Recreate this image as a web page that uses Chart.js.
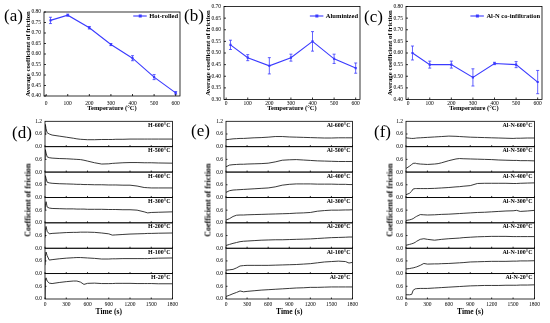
<!DOCTYPE html>
<html>
<head>
<meta charset="utf-8">
<script src="https://cdn.jsdelivr.net/npm/chart.js@4.4.0/dist/chart.umd.min.js"></script>
<style>
  body { margin: 0; background: #fff; width: 550px; height: 323px; overflow: hidden; position: relative; font-family: 'Liberation Serif', serif; }
  canvas { position: absolute; }
  .panel { position: absolute; font-size: 17px; line-height: 17px; color: #000; }
  .ytitle { position: absolute; font-weight: bold; font-size: 8px; white-space: nowrap; transform: translate(-50%, -50%) rotate(-90deg); }
</style>
</head>
<body>
<canvas id="chartA" width="185" height="115" style="left:0;top:0"></canvas>
<canvas id="chartB" width="185" height="115" style="left:180px;top:0"></canvas>
<canvas id="chartC" width="188" height="115" style="left:362px;top:0"></canvas>
<canvas id="chartD" width="180" height="208" style="left:0;top:115px"></canvas>
<canvas id="chartE" width="180" height="208" style="left:180px;top:115px"></canvas>
<canvas id="chartF" width="180" height="208" style="left:362px;top:115px"></canvas>

<div class="panel" style="left:4px;top:7px">(a)</div>
<div class="panel" style="left:184px;top:7px">(b)</div>
<div class="panel" style="left:364px;top:8px">(c)</div>
<div class="panel" style="left:12px;top:124px">(d)</div>
<div class="panel" style="left:191px;top:122px">(e)</div>
<div class="panel" style="left:374px;top:123px">(f)</div>
<div class="ytitle" style="left:28px;top:200px">Coefficient of friction</div>
<div class="ytitle" style="left:208px;top:200px">Coefficient of friction</div>
<div class="ytitle" style="left:390px;top:200px">Coefficient of friction</div>

<script>
// Average friction vs temperature
const tempsC = [20, 100, 200, 300, 400, 500, 600];
const tempTicks = [0, 100, 200, 300, 400, 500, 600];
const hotRolled = [0.76, 0.785, 0.725, 0.645, 0.58, 0.49, 0.415];
const hotRolledErr = [0.015, 0.005, 0.006, 0.005, 0.012, 0.012, 0.006];
const aluminized = [0.535, 0.48, 0.445, 0.48, 0.55, 0.475, 0.435];
const aluminizedErr = [0.02, 0.013, 0.035, 0.015, 0.042, 0.02, 0.022];
const alnCoInf = [0.60, 0.55, 0.55, 0.495, 0.555, 0.55, 0.475];
const alnCoInfErr = [0.03, 0.015, 0.015, 0.037, 0.005, 0.013, 0.05];

// Panel order, top to bottom
const panelTemps = ['600', '500', '400', '300', '200', '100', '20'];
const timeTicks = [0, 300, 600, 900, 1200, 1500, 1800];

// Friction traces: hot-rolled
const timeH = [0, 5, 15, 30, 60, 100, 200, 300, 400, 450, 500, 550, 600, 700, 800, 900, 950, 1000, 1100, 1200, 1300, 1400, 1450, 1500, 1600, 1800];
const h600 = [0.55, 1.05, 0.85, 0.66, 0.60, 0.55, 0.50, 0.45, 0.40, 0.37, 0.35, 0.34, 0.33, 0.33, 0.34, 0.34, 0.34, 0.35, 0.35, 0.36, 0.36, 0.36, 0.36, 0.36, 0.36, 0.36];
const h500 = [0.60, 1.06, 0.90, 0.72, 0.68, 0.66, 0.64, 0.63, 0.61, 0.60, 0.59, 0.56, 0.52, 0.44, 0.38, 0.39, 0.41, 0.42, 0.44, 0.45, 0.45, 0.44, 0.44, 0.44, 0.43, 0.42];
const h400 = [0.60, 1.03, 0.90, 0.72, 0.69, 0.67, 0.65, 0.64, 0.63, 0.62, 0.62, 0.61, 0.61, 0.60, 0.60, 0.59, 0.59, 0.59, 0.58, 0.58, 0.54, 0.47, 0.46, 0.45, 0.45, 0.45];
const h300 = [0.60, 0.80, 1.00, 0.75, 0.70, 0.68, 0.67, 0.66, 0.66, 0.65, 0.65, 0.65, 0.64, 0.64, 0.64, 0.63, 0.63, 0.63, 0.62, 0.62, 0.60, 0.52, 0.47, 0.49, 0.50, 0.52];
const h200 = [0.50, 0.85, 1.03, 0.80, 0.68, 0.70, 0.72, 0.74, 0.75, 0.75, 0.76, 0.76, 0.76, 0.75, 0.72, 0.68, 0.62, 0.63, 0.65, 0.67, 0.68, 0.69, 0.70, 0.70, 0.71, 0.72];
const h100 = [0.40, 0.80, 1.02, 0.85, 0.64, 0.66, 0.70, 0.73, 0.75, 0.76, 0.76, 0.75, 0.74, 0.72, 0.69, 0.69, 0.70, 0.70, 0.71, 0.71, 0.71, 0.71, 0.71, 0.72, 0.73, 0.74];
const h20 = [0.00, 0.90, 1.00, 0.85, 0.75, 0.73, 0.78, 0.82, 0.85, 0.85, 0.80, 0.69, 0.74, 0.75, 0.73, 0.73, 0.73, 0.74, 0.74, 0.74, 0.73, 0.73, 0.73, 0.73, 0.72, 0.72];

// Friction traces: aluminized
const timeAl = [0, 50, 100, 150, 200, 250, 300, 400, 500, 600, 700, 800, 900, 1000, 1100, 1200, 1300, 1400, 1500, 1600, 1700, 1750, 1800];
const al600 = [0.33, 0.35, 0.37, 0.38, 0.39, 0.39, 0.40, 0.42, 0.43, 0.45, 0.48, 0.48, 0.46, 0.45, 0.44, 0.43, 0.42, 0.41, 0.41, 0.42, 0.42, 0.42, 0.42];
const al500 = [0.25, 0.33, 0.35, 0.36, 0.37, 0.37, 0.38, 0.39, 0.40, 0.42, 0.48, 0.56, 0.58, 0.59, 0.57, 0.55, 0.53, 0.52, 0.51, 0.50, 0.50, 0.50, 0.50];
const al400 = [0.24, 0.32, 0.35, 0.36, 0.37, 0.38, 0.39, 0.41, 0.43, 0.45, 0.50, 0.58, 0.62, 0.64, 0.64, 0.64, 0.63, 0.63, 0.63, 0.62, 0.62, 0.61, 0.61];
const al300 = [0.13, 0.20, 0.30, 0.36, 0.37, 0.37, 0.38, 0.39, 0.40, 0.41, 0.42, 0.43, 0.44, 0.46, 0.47, 0.49, 0.55, 0.58, 0.60, 0.60, 0.61, 0.61, 0.62];
const al200 = [0.13, 0.18, 0.23, 0.27, 0.31, 0.33, 0.34, 0.36, 0.38, 0.39, 0.40, 0.40, 0.41, 0.42, 0.43, 0.44, 0.46, 0.48, 0.50, 0.51, 0.52, 0.53, 0.53];
const al100 = [0.16, 0.18, 0.20, 0.27, 0.36, 0.38, 0.39, 0.39, 0.39, 0.39, 0.40, 0.41, 0.42, 0.43, 0.45, 0.47, 0.51, 0.55, 0.57, 0.59, 0.57, 0.50, 0.53];
const al20 = [0.12, 0.18, 0.25, 0.31, 0.38, 0.34, 0.36, 0.39, 0.42, 0.44, 0.46, 0.48, 0.50, 0.52, 0.53, 0.55, 0.55, 0.56, 0.57, 0.57, 0.57, 0.57, 0.57];

// Friction traces: Al-N co-infiltration
const timeAlN = [0, 50, 80, 100, 130, 150, 200, 250, 300, 400, 450, 500, 600, 700, 750, 800, 900, 1000, 1100, 1200, 1300, 1400, 1500, 1550, 1600, 1700, 1800];
const aln600 = [0.42, 0.40, 0.39, 0.39, 0.40, 0.41, 0.42, 0.43, 0.44, 0.46, 0.47, 0.48, 0.50, 0.49, 0.48, 0.47, 0.45, 0.44, 0.43, 0.42, 0.41, 0.40, 0.39, 0.40, 0.40, 0.41, 0.41];
const aln500 = [0.17, 0.28, 0.36, 0.41, 0.42, 0.40, 0.38, 0.37, 0.36, 0.38, 0.40, 0.44, 0.54, 0.62, 0.64, 0.63, 0.62, 0.61, 0.60, 0.59, 0.57, 0.56, 0.55, 0.55, 0.54, 0.54, 0.53];
const aln400 = [0.13, 0.20, 0.30, 0.40, 0.42, 0.42, 0.42, 0.42, 0.42, 0.43, 0.44, 0.45, 0.47, 0.50, 0.51, 0.53, 0.56, 0.66, 0.67, 0.67, 0.67, 0.67, 0.66, 0.66, 0.67, 0.68, 0.69];
const aln300 = [0.11, 0.14, 0.17, 0.20, 0.27, 0.31, 0.39, 0.38, 0.37, 0.38, 0.39, 0.40, 0.41, 0.43, 0.44, 0.45, 0.47, 0.49, 0.50, 0.52, 0.54, 0.56, 0.57, 0.59, 0.54, 0.56, 0.59];
const aln200 = [0.14, 0.18, 0.21, 0.23, 0.28, 0.33, 0.42, 0.45, 0.42, 0.38, 0.40, 0.42, 0.45, 0.47, 0.48, 0.50, 0.52, 0.54, 0.55, 0.56, 0.56, 0.56, 0.55, 0.55, 0.55, 0.55, 0.55];
const aln100 = [0.22, 0.24, 0.26, 0.27, 0.30, 0.32, 0.39, 0.48, 0.45, 0.46, 0.46, 0.47, 0.48, 0.50, 0.51, 0.52, 0.55, 0.56, 0.57, 0.58, 0.58, 0.58, 0.59, 0.59, 0.60, 0.60, 0.61];
const aln20 = [0.20, 0.20, 0.22, 0.41, 0.48, 0.49, 0.50, 0.50, 0.50, 0.52, 0.53, 0.54, 0.56, 0.58, 0.59, 0.60, 0.62, 0.63, 0.64, 0.64, 0.64, 0.65, 0.65, 0.65, 0.66, 0.66, 0.67];

const serif = 'Liberation Serif';
const blue = '#3a3aff';

// Frame, inner ticks, error bars and legend for the top charts
const errorBarsPlugin = {
    id: 'errorBars',
    afterDatasetsDraw(chart, args, opts) {
        const { ctx, chartArea } = chart;
        const xs = chart.scales.x;
        const ys = chart.scales.y;
        ctx.save();

        ctx.strokeStyle = blue;
        ctx.lineWidth = 0.8;
        tempsC.forEach((t, i) => {
            const px = xs.getPixelForValue(t);
            const top = ys.getPixelForValue(opts.values[i] + opts.errors[i]);
            const bot = ys.getPixelForValue(opts.values[i] - opts.errors[i]);
            ctx.beginPath();
            ctx.moveTo(px, top); ctx.lineTo(px, bot);
            ctx.moveTo(px - 1.5, top); ctx.lineTo(px + 1.5, top);
            ctx.moveTo(px - 1.5, bot); ctx.lineTo(px + 1.5, bot);
            ctx.stroke();
        });

        ctx.strokeStyle = '#000';
        ctx.lineWidth = 0.8;
        ctx.strokeRect(chartArea.left, chartArea.top, chartArea.width, chartArea.height);
        ctx.beginPath();
        xs.ticks.forEach(t => {
            const px = xs.getPixelForValue(t.value);
            ctx.moveTo(px, chartArea.bottom); ctx.lineTo(px, chartArea.bottom - 2);
        });
        ys.ticks.forEach(t => {
            const py = ys.getPixelForValue(t.value);
            ctx.moveTo(chartArea.left, py); ctx.lineTo(chartArea.left + 2, py);
        });
        ctx.stroke();

        // legend
        ctx.font = `bold 6.5px "${serif}"`;
        ctx.fillStyle = '#000';
        ctx.textAlign = 'right';
        ctx.textBaseline = 'middle';
        const textRight = chartArea.right - 2;
        ctx.fillText(opts.label, textRight, 16);
        const textLeft = textRight - ctx.measureText(opts.label).width;
        ctx.strokeStyle = blue;
        ctx.lineWidth = 1.1;
        ctx.beginPath();
        ctx.moveTo(textLeft - 16, 16); ctx.lineTo(textLeft - 2.5, 16);
        ctx.stroke();
        ctx.fillStyle = blue;
        ctx.fillRect(textLeft - 10.5, 14.5, 3, 3);
        ctx.restore();
    }
};

function createTempChart(id, values, errors, label, yMin, yMax, pad) {
    new Chart(document.getElementById(id), {
        type: 'line',
        data: {
            datasets: [{
                label: label,
                data: tempsC.map((t, i) => ({ x: t, y: values[i] })),
                borderColor: blue,
                backgroundColor: blue,
                borderWidth: 1.1,
                pointStyle: 'rect',
                pointRadius: 1.5,
                pointBorderWidth: 0,
                tension: 0
            }]
        },
        options: {
            responsive: false,
            animation: false,
            events: [],
            layout: { padding: { left: 25, right: pad.right, top: pad.top, bottom: 0 } },
            plugins: {
                legend: { display: false },
                tooltip: { enabled: false },
                errorBars: { values: values, errors: errors, label: label }
            },
            scales: {
                x: {
                    type: 'linear',
                    min: -10,
                    max: 620,
                    border: { display: false },
                    grid: { display: false, drawTicks: false },
                    ticks: { padding: pad.xTick, autoSkip: false, maxRotation: 0, color: '#000', font: { family: serif, size: 5.5 }, callback: v => String(v) },
                    afterBuildTicks: s => { s.ticks = tempTicks.map(v => ({ value: v })); },
                    title: { display: true, text: 'Temperature (°C)', color: '#000', font: { family: serif, size: 6.5, weight: 'bold', lineHeight: 1 }, padding: { top: 0, bottom: 3 } },
                    afterFit: s => { s.height = 115 - pad.bottom; }
                },
                y: {
                    min: yMin,
                    max: yMax,
                    border: { display: false },
                    grid: { display: false, drawTicks: false },
                    ticks: { stepSize: 0.05, padding: 3, autoSkip: false, color: '#000', font: { family: serif, size: 5.5 }, callback: v => v.toFixed(2) },
                    title: { display: true, text: 'Average coefficient of friction', color: '#000', font: { family: serif, size: 6.8, weight: 'bold', lineHeight: 1 }, padding: { top: 0, bottom: 0 } },
                    afterFit: s => { s.width = 19; }
                }
            }
        },
        plugins: [errorBarsPlugin]
    });
}

// Frames, inner ticks and labels for stacked panels
const panelsPlugin = {
    id: 'panels',
    afterDraw(chart, args, opts) {
        const { ctx, chartArea } = chart;
        const xs = chart.scales.x;
        ctx.save();
        ctx.strokeStyle = '#000';
        ctx.lineWidth = 0.8;
        ctx.font = `bold 6px "${serif}"`;
        ctx.fillStyle = '#000';
        ctx.textAlign = 'right';
        ctx.textBaseline = 'middle';
        opts.labels.forEach((label, i) => {
            const s = chart.scales['y' + i];
            ctx.strokeRect(chartArea.left, s.top, chartArea.width, s.height);
            ctx.beginPath();
            xs.ticks.forEach(t => {
                const px = xs.getPixelForValue(t.value);
                ctx.moveTo(px, s.bottom); ctx.lineTo(px, s.bottom - 1.5);
            });
            const py = s.getPixelForValue(0.6);
            ctx.moveTo(chartArea.left, py); ctx.lineTo(chartArea.left + 1.5, py);
            ctx.stroke();
            ctx.fillText(label, chartArea.right - 2, s.top + 4);
        });
        ctx.restore();
    }
};

function createTimeChart(id, times, series, prefix, padLeft) {
    const datasets = series.map((vals, i) => ({
        data: times.map((t, k) => ({ x: t, y: vals[k] })),
        yAxisID: 'y' + i,
        borderColor: '#222',
        borderWidth: 0.9,
        pointRadius: 0,
        tension: 0
    }));

    const scales = {
        x: {
            type: 'linear',
            min: 0,
            max: 1800,
            border: { display: false },
            grid: { display: false, drawTicks: false },
            ticks: { padding: 2, autoSkip: false, maxRotation: 0, color: '#000', font: { family: serif, size: 5.5 }, callback: v => String(v) },
            afterBuildTicks: s => { s.ticks = timeTicks.map(v => ({ value: v })); },
            title: { display: true, text: 'Time (s)', color: '#000', font: { family: serif, size: 7.5, weight: 'bold', lineHeight: 1 }, padding: { top: 0, bottom: 7 } },
            afterFit: s => { s.height = 24; }
        }
    };
    series.forEach((vals, i) => {
        scales['y' + i] = {
            type: 'linear',
            position: 'left',
            stack: 'cof',
            stackWeight: 1,
            weight: series.length - i,
            min: 0,
            max: 1.2,
            border: { display: false },
            grid: { display: false, drawTicks: false },
            ticks: {
                stepSize: 0.6, padding: 3, autoSkip: false, color: '#000', font: { family: serif, size: 5.5 },
                callback: v => (i > 0 && v > 1) ? '' : v.toFixed(1)
            },
            afterFit: s => { s.width = 30; }
        };
    });

    new Chart(document.getElementById(id), {
        type: 'line',
        data: { datasets: datasets },
        options: {
            responsive: false,
            animation: false,
            events: [],
            layout: { padding: { left: padLeft, right: 7, top: 5, bottom: 0 } },
            plugins: {
                legend: { display: false },
                tooltip: { enabled: false },
                panels: { labels: panelTemps.map(t => prefix + t + '°C') }
            },
            scales: scales
        },
        plugins: [panelsPlugin]
    });
}

function carregarGraficos() {
    createTempChart('chartA', hotRolled, hotRolledErr, 'Hot-rolled', 0.40, 0.80, { right: 5, top: 12, bottom: 96, xTick: 4.5 });
    createTempChart('chartB', aluminized, aluminizedErr, 'Aluminized', 0.30, 0.70, { right: 5, top: 6.5, bottom: 99.5, xTick: 1 });
    createTempChart('chartC', alnCoInf, alnCoInfErr, 'Al-N co-infiltration', 0.40, 0.80, { right: 8, top: 6.5, bottom: 99.5, xTick: 1 });

    createTimeChart('chartD', timeH, [h600, h500, h400, h300, h200, h100, h20], 'H-', 15);
    createTimeChart('chartE', timeAl, [al600, al500, al400, al300, al200, al100, al20], 'Al-', 16);
    createTimeChart('chartF', timeAlN, [aln600, aln500, aln400, aln300, aln200, aln100, aln20], 'Al-N-', 14);
}

document.addEventListener('DOMContentLoaded', carregarGraficos);
</script>
</body>
</html>
